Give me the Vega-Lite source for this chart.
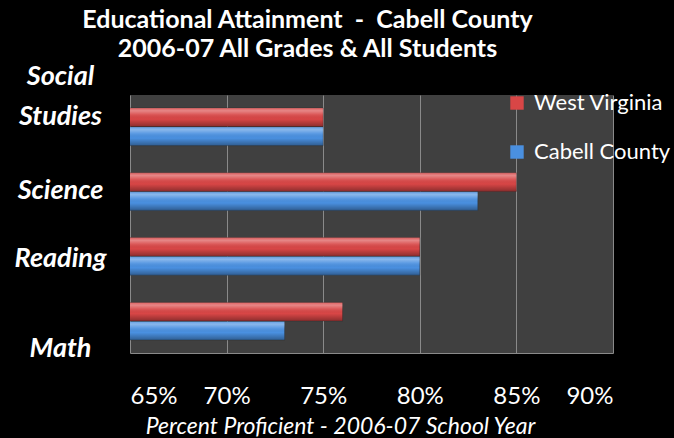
{
  "$schema": "https://vega.github.io/schema/vega-lite/v6.json",
  "width": 483,
  "height": 258,
  "autosize": {"type": "none"},
  "padding": {"left": 130, "top": 95, "right": 61, "bottom": 85},
  "background": "#000000",
  "title": {
    "text": ["Educational Attainment \u00a0- \u00a0Cabell County", "2006-07 All Grades & All Students"],
    "font": "Lato",
    "fontSize": 25,
    "fontWeight": "bold",
    "color": "#ffffff",
    "lineHeight": 29,
    "anchor": "middle",
    "frame": "group",
    "dx": -64,
    "offset": 0
  },
  "data": {
    "values": [
      {"subject": "Social Studies", "region": "West Virginia", "value": 75},
      {"subject": "Social Studies", "region": "Cabell County", "value": 75},
      {"subject": "Science", "region": "West Virginia", "value": 85},
      {"subject": "Science", "region": "Cabell County", "value": 83},
      {"subject": "Reading", "region": "West Virginia", "value": 80},
      {"subject": "Reading", "region": "Cabell County", "value": 80},
      {"subject": "Math", "region": "West Virginia", "value": 76},
      {"subject": "Math", "region": "Cabell County", "value": 73}
    ]
  },
  "encoding": {
    "y": {
      "field": "subject",
      "type": "nominal",
      "sort": ["Social Studies", "Science", "Reading", "Math"],
      "scale": {"paddingInner": 0.42, "paddingOuter": 0.2},
      "axis": {
        "title": null,
        "ticks": false,
        "domain": false,
        "labelFont": "Lato",
        "labelFontSize": 27,
        "labelFontWeight": "bold",
        "labelFontStyle": "italic",
        "labelColor": "#ffffff",
        "labelAlign": "center",
        "labelPadding": 70,
        "labelLineHeight": 40,
        "labelExpr": "datum.value == 'Social Studies' ? ['Social', 'Studies'] : datum.value",
        "labelOffset": {
          "condition": [
            {"test": "datum.value == 'Social Studies'", "value": -50},
            {"test": "datum.value == 'Science'", "value": -1},
            {"test": "datum.value == 'Reading'", "value": 3}
          ],
          "value": 28
        }
      }
    },
    "yOffset": {
      "field": "region",
      "type": "nominal",
      "sort": ["West Virginia", "Cabell County"],
      "scale": {"paddingInner": 0.02}
    },
    "x": {
      "field": "value",
      "type": "quantitative",
      "scale": {"domain": [65, 90], "zero": false, "nice": false},
      "axis": {
        "values": [65, 70, 75, 80, 85, 90],
        "labelExpr": "datum.value + '%'",
        "title": "Percent Proficient - 2006-07 School Year",
        "titleFont": "Lato",
        "titleFontSize": 23,
        "titleFontWeight": "normal",
        "titleFontStyle": "italic",
        "titleColor": "#ffffff",
        "titleX": 210,
        "titleAlign": "center",
        "titlePadding": 7,
        "labelFont": "Lato",
        "labelFontSize": 24,
        "labelColor": "#ffffff",
        "labelPadding": 31,
        "ticks": false,
        "domain": true,
        "domainColor": "#8a8a8a",
        "grid": true,
        "gridColor": "#8a8a8a",
        "gridWidth": 1
      }
    }
  },
  "layer": [
    {
      "mark": {"type": "bar", "clip": true, "stroke": "#202020", "strokeOpacity": 0.5, "strokeWidth": 0.6},
      "encoding": {
        "color": {
          "field": "region",
          "type": "nominal",
          "scale": {"domain": ["West Virginia", "Cabell County"], "range": ["#d84646", "#4a90e0"]},
          "legend": {
            "title": null,
            "orient": "none",
            "legendX": 376,
            "legendY": -3,
            "symbolType": "square",
            "symbolSize": 180,
            "symbolStrokeWidth": 0,
            "labelFont": "Lato",
            "labelFontSize": 22,
            "labelColor": "#ffffff",
            "rowPadding": 27,
            "labelOffset": 6
          }
        }
      }
    },
    {
      "mark": {
        "type": "bar",
        "clip": true,
        "color": {
          "gradient": "linear",
          "x1": 0, "y1": 0, "x2": 0, "y2": 1,
          "stops": [
            {"offset": 0, "color": "rgba(255,255,255,0.15)"},
            {"offset": 0.15, "color": "rgba(255,255,255,0.35)"},
            {"offset": 0.35, "color": "rgba(255,255,255,0.1)"},
            {"offset": 0.6, "color": "rgba(0,0,0,0)"},
            {"offset": 1, "color": "rgba(0,0,0,0.35)"}
          ]
        }
      }
    }
  ],
  "config": {
    "view": {"fill": "#404040", "stroke": null}
  }
}
